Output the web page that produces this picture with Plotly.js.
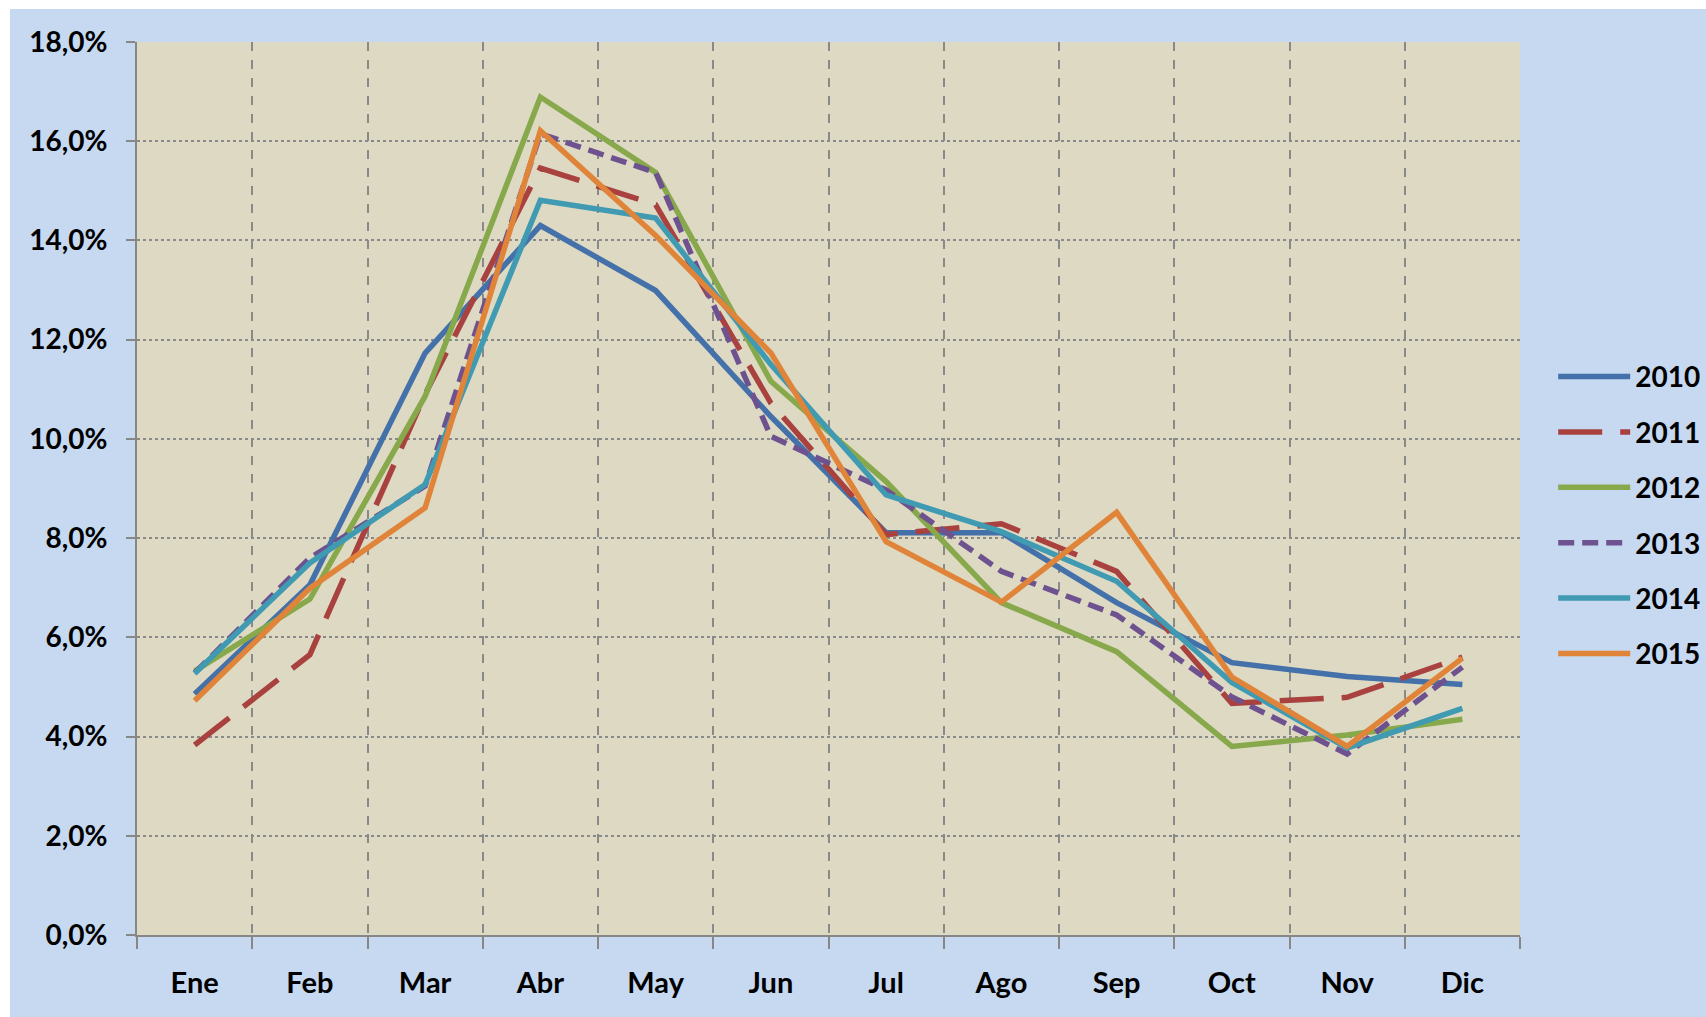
<!DOCTYPE html>
<html>
<head>
<meta charset="utf-8">
<script src="https://cdn.plot.ly/plotly-3.0.1.min.js"></script>
<style>
  html, body { margin: 0; padding: 0; background: #ffffff; width: 1706px; height: 1017px; overflow: hidden; }
  #chart { position: absolute; left: 10px; top: 9px; width: 1696px; height: 1008px; }
</style>
</head>
<body>
<div id="chart"></div>
<script>
// ---- Data (percent) ----
const months = ["Ene", "Feb", "Mar", "Abr", "May", "Jun", "Jul", "Ago", "Sep", "Oct", "Nov", "Dic"];
const y2010 = [4.86, 7.06, 11.73, 14.30, 12.99, 10.45, 8.11, 8.11, 6.70, 5.49, 5.21, 5.05];
const y2011 = [3.83, 5.65, 10.90, 15.46, 14.72, 10.72, 8.07, 8.29, 7.33, 4.67, 4.79, 5.60];
const y2012 = [5.32, 6.77, 10.86, 16.89, 15.37, 11.16, 9.14, 6.70, 5.71, 3.80, 4.03, 4.35];
const y2013 = [5.28, 7.60, 9.05, 16.15, 15.37, 10.05, 8.97, 7.33, 6.45, 4.80, 3.65, 5.40];
const y2014 = [5.27, 7.50, 9.08, 14.81, 14.45, 11.50, 8.87, 8.13, 7.13, 5.09, 3.77, 4.57];
const y2015 = [4.72, 6.99, 8.61, 16.21, 14.10, 11.73, 7.93, 6.71, 8.52, 5.20, 3.80, 5.58];
const seriesNames = ["2010", "2011", "2012", "2013", "2014", "2015"];
const yTickVals = [0, 2, 4, 6, 8, 10, 12, 14, 16, 18];
const yTickText = ["0,0%", "2,0%", "4,0%", "6,0%", "8,0%", "10,0%", "12,0%", "14,0%", "16,0%", "18,0%"];

const seriesData = [y2010, y2011, y2012, y2013, y2014, y2015];
const styles = [
  { color: "#4471A9", dash: "solid" },
  { color: "#A9413F", dash: "44px,18px" },
  { color: "#88A84C", dash: "solid" },
  { color: "#6E5290", dash: "16px,8px" },
  { color: "#3F9AB2", dash: "solid" },
  { color: "#E0843A", dash: "solid" }
];

const traces = seriesData.map((ys, i) => ({
  type: "scatter",
  mode: "lines",
  x: months,
  y: ys,
  name: seriesNames[i],
  legendgroup: seriesNames[i],
  line: { color: styles[i].color, width: 5.5, dash: styles[i].dash },
  hoverinfo: "skip"
}));

const gridGray = "#898989";
const fontFam = "Lato, 'Open Sans', sans-serif";

const layout = {
  width: 1696,
  height: 1008,
  paper_bgcolor: "#C6D9F1",
  plot_bgcolor: "#DDD9C3",
  separators: ",.",
  margin: { l: 127, r: 186, t: 33, b: 82, autoexpand: false },
  font: { family: fontFam, color: "#000000" },
  showlegend: true,
  legend: {
    x: 1.024, xanchor: "left",
    y: 0.47, yanchor: "middle",
    bgcolor: "rgba(0,0,0,0)",
    font: { family: fontFam, size: 28, color: "#000000", weight: "bold" },
    itemwidth: 72,
    tracegroupgap: 16,
    traceorder: "grouped"
  },
  xaxis: {
    type: "category",
    range: [-0.5, 11.5],
    tickson: "boundaries",
    showgrid: true,
    gridcolor: gridGray,
    gridwidth: 2,
    griddash: "dash",
    showline: true,
    linecolor: "#878787",
    linewidth: 2,
    ticks: "outside",
    ticklen: 12,
    tickwidth: 2,
    tickcolor: "#878787",
    tickfont: { family: fontFam, size: 29, color: "#000000", weight: "bold" },
    ticklabelstandoff: 21,
    fixedrange: true
  },
  yaxis: {
    range: [0, 18],
    tickmode: "array",
    tickvals: yTickVals,
    ticktext: yTickText,
    showgrid: true,
    gridcolor: gridGray,
    gridwidth: 2,
    griddash: "dot",
    zeroline: false,
    showline: true,
    linecolor: "#878787",
    linewidth: 2,
    ticks: "outside",
    ticklen: 9,
    tickwidth: 2,
    tickcolor: "#878787",
    tickfont: { family: fontFam, size: 28, color: "#000000", weight: "bold" },
    ticklabelstandoff: 13,
    fixedrange: true
  },
  hovermode: false
};

Plotly.newPlot("chart", traces, layout, { displayModeBar: false, staticPlot: true });
</script>
</body>
</html>
